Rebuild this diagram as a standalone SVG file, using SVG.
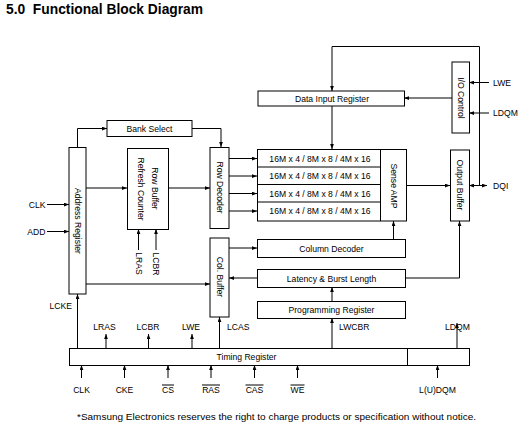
<svg xmlns="http://www.w3.org/2000/svg" width="531" height="439" viewBox="0 0 531 439">
<style>
.b{fill:#fff;stroke:#000;stroke-width:1}
.t{font-family:"Liberation Sans",Arial,sans-serif;font-size:8.6px;fill:#000}
.m{text-anchor:middle}
.l{fill:none;stroke:#000;stroke-width:1}
.a{marker-end:url(#ah)}
</style>
<defs>
<marker id="ah" viewBox="0 0 8 6" refX="8" refY="3" markerWidth="5" markerHeight="4" markerUnits="userSpaceOnUse" orient="auto-start-reverse"><path d="M0,0 L8,3 L0,6 z" fill="#000"/></marker>
</defs>
<rect width="531" height="439" fill="#fff"/>
<text x="6" y="13.5" xml:space="preserve" style="font-family:'Liberation Sans',Arial,sans-serif;font-weight:bold;font-size:13.8px">5.0  Functional Block Diagram</text>

<g id="connectors">
<path class="l a" d="M77.5,147 V128.5 H107"/>
<path class="l a" d="M192,128.5 H221 V147"/>
<path class="l a" d="M86,188 H127"/>
<path class="l a" d="M168,188 H210"/>
<path class="l a" d="M229,158.5 H257"/>
<path class="l a" d="M229,176 H257"/>
<path class="l a" d="M229,193.5 H257"/>
<path class="l a" d="M229,211 H257"/>
<path class="l a" d="M47,204.5 H69"/>
<path class="l a" d="M47,231.5 H69"/>
<path class="l a" d="M138.5,250 V229"/>
<path class="l a" d="M156,250 V229"/>
<path class="l a" d="M86,284 H210"/>
<path class="l a" d="M77.5,348 V294"/>
<path class="l a" d="M229,248 H257"/>
<path class="l a" d="M257,278 H229"/>
<path class="l a" d="M332,301 V287"/>
<path class="l a" d="M393.5,239 V221"/>
<path class="l a" d="M405,278 H459.5 V221"/>
<path class="l a" d="M407,185.5 H450"/>
<path class="l a" d="M469,185.5 H487" style="marker-start:url(#ah)"/>
<path class="l a" d="M479.5,185.5 V46.5 H332 V91"/>
<path class="l a" d="M332,106 V149"/>
<path class="l a" d="M452,98 H404"/>
<path class="l a" d="M489,82.5 H469"/>
<path class="l a" d="M489,113 H469"/>
<path class="l a" d="M106,348 V334"/>
<path class="l a" d="M148.5,348 V334"/>
<path class="l a" d="M192,348 V334"/>
<path class="l a" d="M219.5,348 V317"/>
<path class="l a" d="M332,348 V318"/>
<path class="l a" d="M457,348 V323"/>
<path class="l a" d="M81.5,378 V365"/>
<path class="l a" d="M124.5,378 V365"/>
<path class="l a" d="M168,378 V365"/>
<path class="l a" d="M211,378 V365"/>
<path class="l a" d="M254.5,378 V365"/>
<path class="l a" d="M297.5,378 V365"/>
<path class="l a" d="M437.5,378 V365"/>
</g>

<g id="bank-select"><rect class="b" x="107" y="120.5" width="85" height="16"/><text class="t m" x="149.5" y="131.5">Bank Select</text></g>
<g id="address-register"><rect class="b" x="69" y="147.5" width="17" height="146.5"/><text class="t m" transform="translate(77.5,221) rotate(90)" y="3">Address Register</text></g>
<g id="row-buffer"><rect class="b" x="127.5" y="148.5" width="41" height="81"/><text class="t m" transform="translate(154.5,188.5) rotate(90)" y="3">Row Buffer</text><text class="t m" transform="translate(141,189) rotate(90)" y="3">Refresh Counter</text></g>
<g id="row-decoder"><rect class="b" x="210" y="147.5" width="19" height="81"/><text class="t m" transform="translate(219.5,187.5) rotate(90)" y="3">Row Decoder</text></g>
<g id="col-buffer"><rect class="b" x="210" y="238" width="19" height="79"/><text class="t m" transform="translate(219.5,277) rotate(90)" y="3">Col. Buffer</text></g>
<g id="data-input-register"><rect class="b" x="258" y="91" width="146.5" height="15"/><text class="t m" x="332" y="101.5">Data Input Register</text></g>
<g id="io-control"><rect class="b" x="452" y="62" width="17.5" height="71"/><text class="t m" transform="translate(460.5,98) rotate(90)" y="3">I/O Control</text></g>
<g id="memory-array"><rect class="b" x="257.5" y="149.5" width="149" height="71.5"/>
<path class="l" d="M257.5,167 H380.5 M257.5,184.5 H380.5 M257.5,202 H380.5 M380.5,149.5 V221"/>
<text class="t m" x="320" y="161.5">16M x 4 / 8M x 8 / 4M x 16</text>
<text class="t m" x="320" y="179">16M x 4 / 8M x 8 / 4M x 16</text>
<text class="t m" x="320" y="196.5">16M x 4 / 8M x 8 / 4M x 16</text>
<text class="t m" x="320" y="214">16M x 4 / 8M x 8 / 4M x 16</text>
<text class="t m" transform="translate(393.5,186) rotate(90)" y="3">Sense AMP</text></g>
<g id="output-buffer"><rect class="b" x="450.5" y="150" width="19" height="71"/><text class="t m" transform="translate(460,185) rotate(90)" y="3">Output Buffer</text></g>
<g id="column-decoder"><rect class="b" x="257.5" y="239.5" width="148" height="18"/><text class="t m" x="331.5" y="251.5">Column Decoder</text></g>
<g id="latency"><rect class="b" x="257.5" y="269.5" width="148" height="18"/><text class="t m" x="331.5" y="281.5">Latency &amp; Burst Length</text></g>
<g id="programming-register"><rect class="b" x="257.5" y="301.5" width="148" height="17"/><text class="t m" x="331.5" y="313">Programming Register</text></g>
<g id="timing-register"><rect class="b" x="69.5" y="348.5" width="400" height="17"/><path class="l" d="M407.5,348.5 V365.5"/><text class="t m" x="246.5" y="360">Timing Register</text></g>

<g id="labels">
<text class="t" x="45.5" y="207.5" text-anchor="end">CLK</text>
<text class="t" x="45.5" y="234.5" text-anchor="end">ADD</text>
<text class="t m" transform="translate(138.5,263.5) rotate(90)" y="3">LRAS</text>
<text class="t m" transform="translate(156,264) rotate(90)" y="3">LCBR</text>
<text class="t" x="72" y="309" text-anchor="end">LCKE</text>
<text class="t" x="493" y="85.5">LWE</text>
<text class="t" x="493" y="116">LDQM</text>
<text class="t" x="493" y="188.5">DQI</text>
<text class="t m" x="104.5" y="330">LRAS</text>
<text class="t m" x="148" y="330">LCBR</text>
<text class="t m" x="191" y="330">LWE</text>
<text class="t" x="227" y="330">LCAS</text>
<text class="t" x="339" y="330">LWCBR</text>
<text class="t m" x="457.5" y="330">LDQM</text>
<text class="t m" x="81.5" y="393">CLK</text>
<text class="t m" x="124.5" y="393">CKE</text>
<text class="t m" x="168" y="393">CS</text>
<text class="t m" x="211" y="393">RAS</text>
<text class="t m" x="254.5" y="393">CAS</text>
<text class="t m" x="297.5" y="393">WE</text>
<text class="t m" x="437.5" y="393">L(U)DQM</text>
<path class="l" d="M162,385 H174 M202,385 H220 M245.5,385 H263.5 M290.5,385 H304.5"/>
<text class="t" x="77" y="419.5" style="font-size:9px" textLength="399" lengthAdjust="spacingAndGlyphs">*Samsung Electronics reserves the right to charge products or specification without notice.</text>
</g>
</svg>
